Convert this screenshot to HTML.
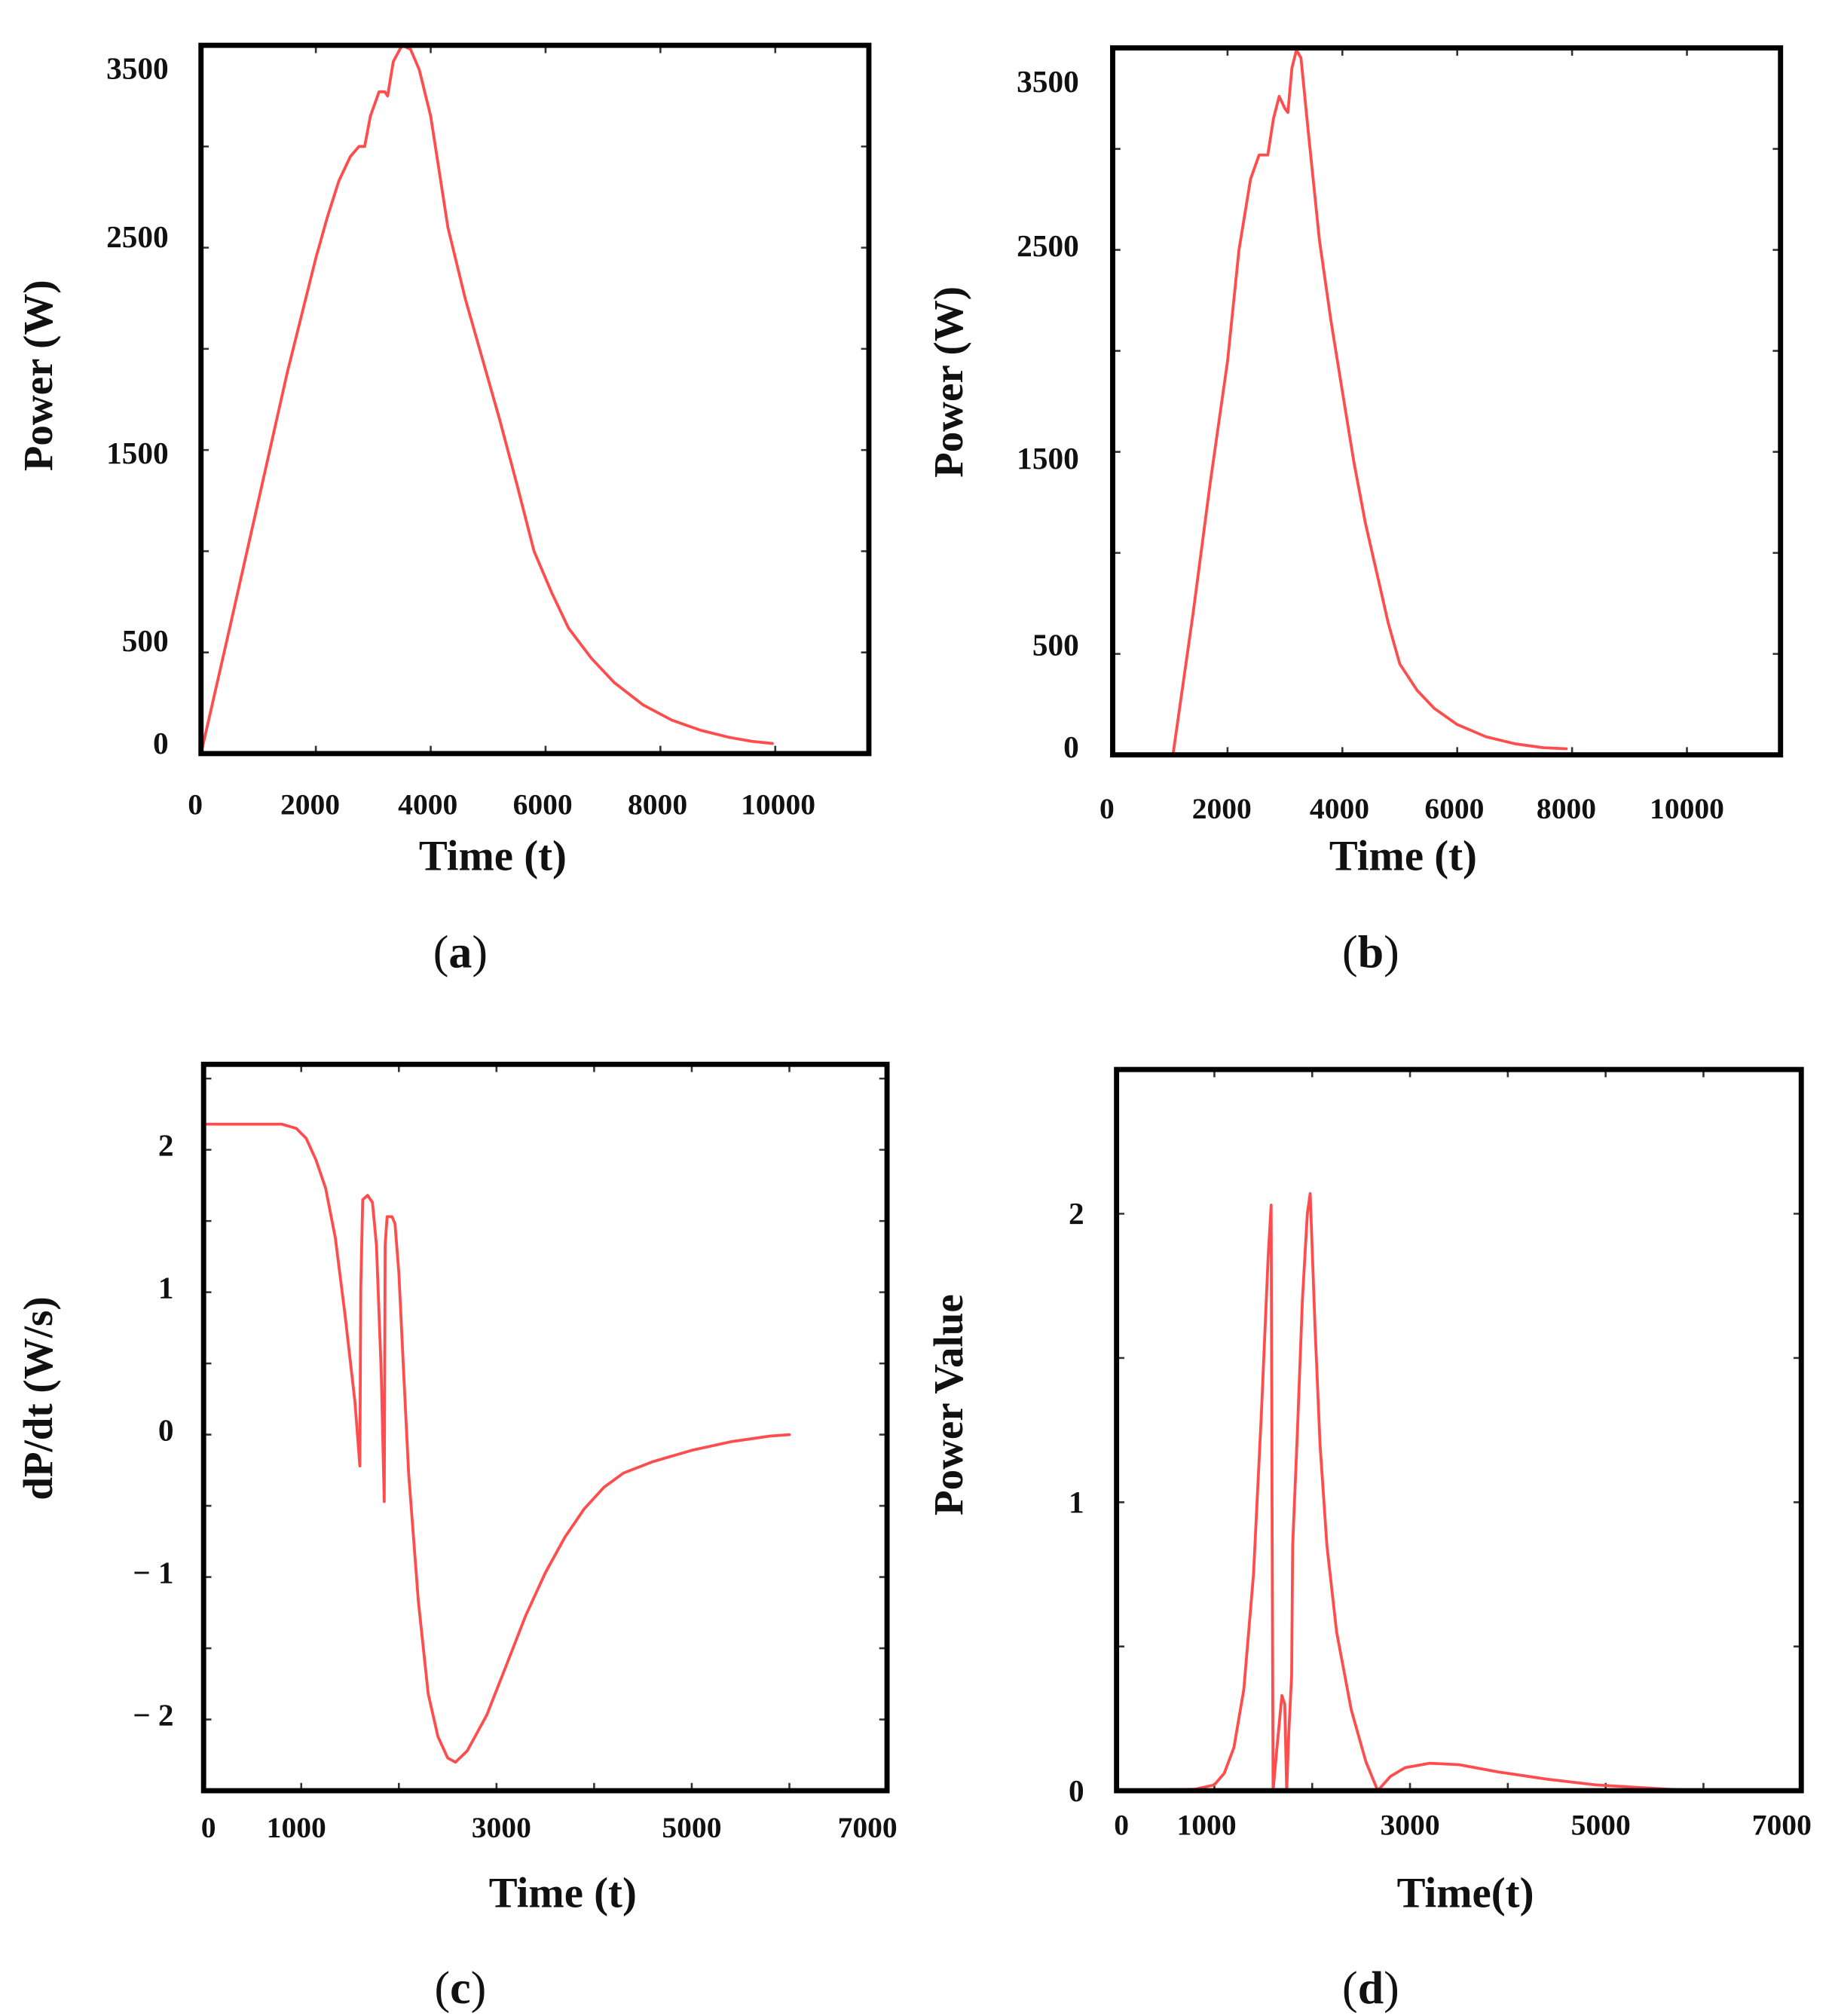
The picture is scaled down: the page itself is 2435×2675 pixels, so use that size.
<!DOCTYPE html>
<html><head><meta charset="utf-8"><style>
html,body{margin:0;padding:0;background:#fff}
svg{display:block}
text{font-family:"Liberation Serif",serif;font-weight:bold;fill:#111}
</style></head><body>
<svg id="fig" width="2435" height="2675" viewBox="0 0 1415 1557" preserveAspectRatio="none" xmlns="http://www.w3.org/2000/svg"></svg>
<script>
// ---- data ----
const aX=[0,500,1000,1500,2000,2200,2400,2600,2750,2850,2950,3100,3200,3250,3350,3500,3650,3800,4000,4300,4600,4900,5200,5500,5800,6100,6400,6800,7200,7700,8200,8700,9200,9600,9950];
const aY=[0,620,1250,1880,2450,2650,2830,2950,3000,3000,3150,3270,3270,3250,3420,3500,3480,3380,3150,2600,2250,1950,1650,1330,1000,800,620,470,350,240,165,115,80,60,50];
const aYTicks=["3500","2500","1500","500","0"];
const aYTickAt=[3385,2553,1484,557,51];
const aXTicks=["0","2000","4000","6000","8000","10000"];
const aXTickAt=[-100,1900,3950,5950,7950,10050];

const bX=[1050,1400,1700,2000,2200,2400,2550,2700,2800,2900,3000,3050,3120,3200,3280,3400,3600,3800,4000,4200,4400,4600,4800,5000,5300,5600,6000,6500,7000,7500,7900];
const bY=[0,700,1350,1950,2500,2850,2970,2970,3150,3260,3200,3180,3400,3490,3450,3100,2550,2150,1800,1450,1150,900,650,450,320,230,150,90,55,35,30];
const bYTicks=["3500","2500","1500","500","0"];
const bYTickAt=[3333,2519,1468,545,38];
const bXTicks=["0","2000","4000","6000","8000","10000"];
const bXTickAt=[-100,1900,3950,5950,7900,10000];

const cX=[0,800,950,1050,1150,1250,1350,1450,1550,1600,1610,1630,1680,1730,1770,1820,1850,1860,1880,1930,1960,2000,2050,2100,2200,2300,2400,2500,2580,2700,2900,3100,3300,3500,3700,3900,4100,4300,4600,5000,5400,5800,6000];
const cY=[2.15,2.15,2.12,2.05,1.9,1.7,1.35,0.8,0.2,-0.25,1.0,1.62,1.65,1.6,1.3,0.4,-0.5,1.3,1.5,1.5,1.45,1.1,0.4,-0.3,-1.2,-1.85,-2.15,-2.3,-2.33,-2.25,-2.0,-1.65,-1.3,-1.0,-0.75,-0.55,-0.4,-0.3,-0.22,-0.14,-0.08,-0.04,-0.03];
const cYTicks=["2","1","0","− 1","− 2"];
const cYTickAt=[2.0,1.0,0,-1.0,-2.0];
const cXTicks=["0","1000","3000","5000","7000"];
const cXTickAt=[50,950,3050,5000,6800];

const dX=[0,800,1000,1100,1200,1300,1400,1480,1550,1580,1590,1600,1640,1690,1720,1740,1760,1790,1800,1850,1900,1950,1980,2030,2080,2150,2250,2400,2550,2670,2800,2950,3200,3500,3900,4400,4900,5400,5900];
const dY=[0,0.005,0.02,0.06,0.15,0.35,0.75,1.3,1.85,2.03,1.0,0,0.15,0.33,0.3,0,0.2,0.4,0.85,1.25,1.7,2.0,2.07,1.6,1.2,0.85,0.55,0.28,0.1,0,0.05,0.08,0.095,0.09,0.065,0.04,0.02,0.01,0];
const dYTicks=["2","1","0"];
const dYTickAt=[2.0,1.0,0.0];
const dXTicks=["0","1000","3000","5000","7000"];
const dXTickAt=[50,920,3000,4950,6800];

const NS="http://www.w3.org/2000/svg";
const svg=document.getElementById('fig');
function mk(tag,attrs,parent){const e=document.createElementNS(NS,tag);for(const k in attrs)e.setAttribute(k,attrs[k]);(parent||svg).appendChild(e);return e;}

function panel(id,box,xr,yr,xs,ys,xTickStep,yTickStep,yLbl,yAt,xLbl,xAt,ytitle,ytPos,xtitle,xtPos,cap,capPos,lblX,lblY){
  const g=mk('g',{});
  
  
  const [x0,y0,x1,y1]=box;
  const sx=v=>x0+(v-xr[0])/(xr[1]-xr[0])*(x1-x0);
  const sy=v=>y1-(v-yr[0])/(yr[1]-yr[0])*(y1-y0);
  for(let v=xr[0]+xTickStep;v<xr[1]-1e-6;v+=xTickStep){
    const t=mk('path',{d:`M${sx(v)},${y1}v-6M${sx(v)},${y0}v6`,stroke:'#333','stroke-width':1.5},g);
    
    
  }
  for(let v=yr[0]+yTickStep;v<yr[1]-1e-6;v+=yTickStep){
    const t=mk('path',{d:`M${x0},${sy(v)}h6M${x1},${sy(v)}h-6`,stroke:'#333','stroke-width':1.5},g);
    
    
  }
  const pts=xs.map((x,i)=>sx(x).toFixed(1)+','+sy(ys[i]).toFixed(1)).join(' ');
  const line=mk('polyline',{points:pts,fill:'none',stroke:'#ff4d4d','stroke-width':2.2,'stroke-linejoin':'round','stroke-linecap':'round'},g);
  
  
  const fr=mk('rect',{x:x0,y:y0,width:x1-x0,height:y1-y0,fill:'none',stroke:'#000','stroke-width':4},g);
  
  
  yLbl.forEach((s,i)=>{
    const t=mk('text',{x:lblX,y:sy(yAt[i])+8,'text-anchor':'end','font-size':24},g);
    t.textContent=s;
    
    
  });
  xLbl.forEach((s,i)=>{
    const t=mk('text',{x:sx(xAt[i]),y:lblY,'text-anchor':'middle','font-size':23},g);
    t.textContent=s;
    
    
  });
  const yt=mk('text',{x:ytPos[0],y:ytPos[1],'text-anchor':'middle','font-size':32,transform:`rotate(-90 ${ytPos[0]} ${ytPos[1]})`},g);
  yt.textContent=ytitle;
  
  
  const xt=mk('text',{x:xtPos[0],y:xtPos[1],'text-anchor':'middle','font-size':33},g);
  xt.textContent=xtitle;
  
  
  const c=mk('text',{x:capPos[0],y:capPos[1],'text-anchor':'middle','font-size':36},g);
  c.innerHTML='<tspan font-weight="normal">(</tspan>'+cap+'<tspan font-weight="normal">)</tspan>';
  
  
}
panel('a',[155,35,670,582],[0,11630],[0,3500],aX,aY,2000,500,aYTicks,aYTickAt,aXTicks,aXTickAt,'Power (W)',[40,290],'Time (t)',[380,672],'a',[355,747],130,629);
panel('b',[858,37,1373,583],[0,11630],[0,3500],bX,bY,2000,500,bYTicks,bYTickAt,bXTicks,bXTickAt,'Power (W)',[742,295],'Time (t)',[1082,672],'b',[1057,747],832,632);
panel('c',[157,822,684,1383],[0,7000],[-2.53,2.57],cX,cY,1000,0.5,cYTicks,cYTickAt,cXTicks,cXTickAt,'dP/dt (W/s)',[40,1080],'Time (t)',[434,1473],'c',[355,1547],134,1419);
panel('d',[861,826,1389,1383],[0,7000],[0,2.5],dX,dY,1000,0.5,dYTicks,dYTickAt,dXTicks,dXTickAt,'Power Value',[742,1085],'Time(t)',[1130,1473],'d',[1057,1547],836,1417);
</script>
</body></html>
